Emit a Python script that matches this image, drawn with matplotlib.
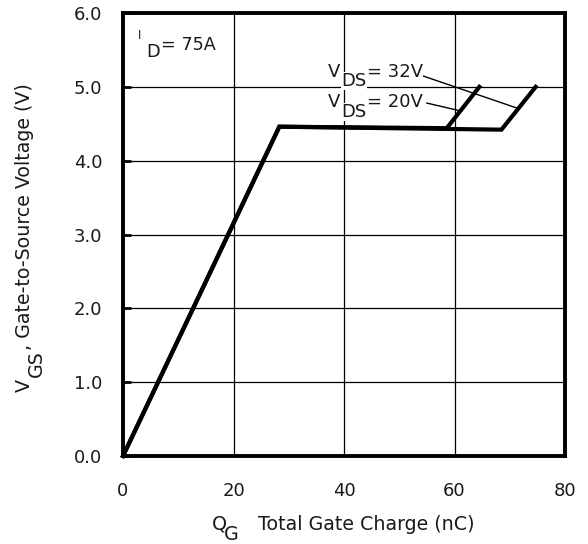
import matplotlib
matplotlib.use("Agg")
import matplotlib.pyplot as plt

plt.rcParams['font.family'] = ['DejaVu Sans']

# Data
qg_20v = [0, 28.3, 58.6, 64.5]
vgs_20v = [0, 4.46, 4.44, 5.0]
qg_32v = [0, 28.3, 68.5, 74.7]
vgs_32v = [0, 4.46, 4.42, 5.0]
x_ticks = [0, 20, 40, 60, 80]
y_ticks = [0.0, 1.0, 2.0, 3.0, 4.0, 5.0, 6.0]

W, H = 588, 544
fig = plt.figure(figsize=(W/100, H/100), dpi=100)
ax = fig.add_axes([123/W, 1-456/H, 442/W, 443/H])

ax.set_xlim(0, 80)
ax.set_ylim(0, 6)
ax.set_xticks(x_ticks)
ax.set_yticks(y_ticks)
ax.set_xticklabels([str(v) for v in x_ticks])
ax.set_yticklabels([f"{v:.1f}" for v in y_ticks])
ax.grid(True, color='black', linewidth=0.9)
ax.set_axisbelow(True)
ax.tick_params(axis='both', direction='in', length=6, width=2, labelsize=13,
               colors='black', labelcolor='#1a1a1a')
ax.tick_params(axis='x', pad=19, length=0)
ax.tick_params(axis='y', pad=15)
for s in ax.spines.values():
    s.set_linewidth(2.8)

ax.plot(qg_32v, vgs_32v, color='black', linewidth=3, solid_joinstyle='miter', clip_on=False)
ax.plot(qg_20v, vgs_20v, color='black', linewidth=3, solid_joinstyle='miter', clip_on=False)

ax.plot([53.8, 71.4], [5.16, 4.71], color='black', linewidth=1)
ax.plot([55.0, 61.3], [4.78, 4.67], color='black', linewidth=1)


def ptext(x, y, txt, size=13, rotation=0, color='#1a1a1a', bg=False):
    """Text at pixel coords (origin top-left), anchored at baseline start."""
    kw = {}
    if bg:
        kw['bbox'] = dict(facecolor='white', edgecolor='none', pad=0.2)
    fig.text(x/W, 1 - y/H, txt, fontsize=size, color=color, rotation=rotation,
             ha='left', va='baseline', rotation_mode='anchor', **kw)


# I_D = 75A
ptext(138, 39, 'I', size=8.5)
ptext(146, 57, 'D', size=12.7)
ptext(161, 50, '= 75A', size=12.7)

# V_DS labels
ptext(328, 77, 'V', size=13, bg=True)
ptext(341, 86, 'DS', size=13, bg=True)
ptext(367, 77, '= 32V', size=13, bg=True)
ptext(328, 107, 'V', size=13, bg=True)
ptext(341, 117, 'DS', size=13, bg=True)
ptext(367, 107, '= 20V', size=13, bg=True)

# x label
ptext(212, 530, 'Q', size=13.7)
ptext(224, 540, 'G', size=13.7)
ptext(258, 530, 'Total Gate Charge (nC)', size=13.7)

# y label (rotated)
ptext(30, 392, 'V', size=13.7, rotation=90)
ptext(42, 377, 'GS', size=13.7, rotation=90)
ptext(30, 350, ', Gate-to-Source Voltage (V)', size=13.7, rotation=90)

fig.savefig('out.png', dpi=100)
